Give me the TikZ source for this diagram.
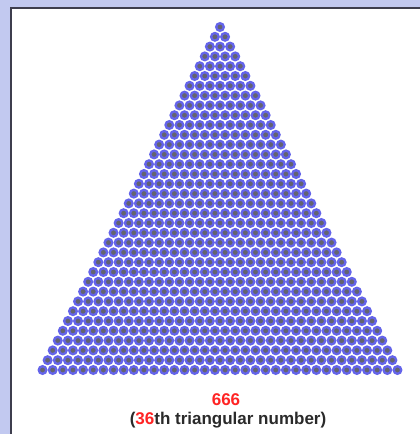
\documentclass[tikz,border=0pt]{standalone}
\usepackage{fontspec}
\setmainfont{Liberation Sans}
\definecolor{bglav}{HTML}{C2C9F0}
\definecolor{edge}{HTML}{3E3E4E}
\definecolor{dotgray}{HTML}{64646F}
\definecolor{dotblue}{HTML}{6464EA}
\definecolor{numred}{HTML}{FF2424}
\definecolor{txt}{HTML}{2A2A2A}
\tikzset{
  dot/.style={circle,fill=dotgray,draw=dotblue,line width=2.3pt,minimum size=7.6pt,inner sep=0pt},
  lbl/.style={font=\fontsize{17}{20}\selectfont\bfseries,inner sep=0pt,anchor=base}
}
\begin{document}
\begin{tikzpicture}[x=1pt,y=-1pt]
\useasboundingbox (0,0) rectangle (420,434);
\fill[bglav] (0,0) rectangle (420,434);
\fill[white] (10,7) rectangle (420,434);
\draw[edge,line width=1.8pt] (10.6,434) -- (10.6,7.6) -- (420,7.6);
\foreach \i in {0,...,35}{
  \foreach \j in {0,...,\i}{
    \node[dot] (c-\i-\j) at ({220+(\j-\i/2)*10.14},{27+\i*9.8}) {};
  }
}
\node[lbl,text=numred] (num) at (226,405) {666};
\node[lbl,text=txt] (cap) at (228,424) {(\textcolor{numred}{36}th triangular number)};
\end{tikzpicture}
\end{document}
